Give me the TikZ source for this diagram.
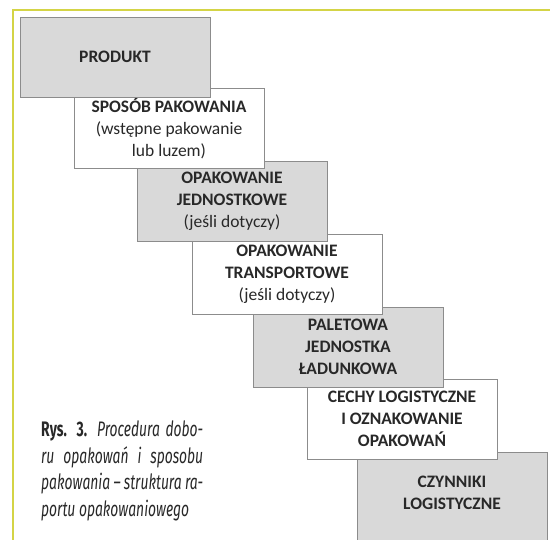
\documentclass[tikz,border=0pt]{standalone}
\usepackage{fontspec}
\setmainfont{Carlito}
\newfontfamily\capfont{Fira Sans}[FakeStretch=0.66]
\usetikzlibrary{shadows}
\definecolor{framey}{RGB}{212,212,70}
\definecolor{boxgray}{RGB}{217,217,217}
\definecolor{boxline}{RGB}{140,140,140}
\definecolor{inktext}{RGB}{40,40,40}
\tikzset{
  stepbox/.style  = {draw=boxline, line width=0.9pt, minimum width=190pt,
                     minimum height=80pt, inner sep=2pt, align=center,
                     text=inktext, font=\fontsize{17.5}{22}\selectfont\bfseries,
                     drop shadow={shadow xshift=1.2pt, shadow yshift=-1.2pt,
                                  opacity=0.35, fill=black}},
  graybox/.style  = {stepbox, fill=boxgray},
  whitebox/.style = {stepbox, fill=white},
  frame line/.style = {line width=2pt, framey},
  caption/.style  = {font=\capfont\fontsize{21}{26.5}\selectfont\itshape,
                     text=inktext, align=left, inner sep=0pt},
}

\begin{document}
\begin{tikzpicture}[x=1pt,y=-1pt]
  \clip (0,0) rectangle (550,540);
  \fill[white] (0,0) rectangle (550,540);

  % yellow frame
  \draw[frame line] (13,541) -- (13,10) -- (550,10);

  % steps, drawn from the last one so that each earlier box lies on top
  \node[graybox, minimum height=110pt] (czynniki) at (452,507) {CZYNNIKI\\ LOGISTYCZNE\\[6pt]};
  \node[whitebox] (cechy)    at (402,419) {CECHY LOGISTYCZNE\\ I OZNAKOWANIE\\ OPAKOWAŃ};
  \node[graybox]  (paleta)   at (348,347) {PALETOWA\\ JEDNOSTKA\\ ŁADUNKOWA};
  \node[whitebox] (transp)   at (287,274) {OPAKOWANIE\\ TRANSPORTOWE\\ \mdseries(jeśli dotyczy)};
  \node[graybox]  (jednost)  at (232,201) {OPAKOWANIE\\ JEDNOSTKOWE\\ \mdseries(jeśli dotyczy)};
  \node[whitebox] (sposob)   at (169,128) {SPOSÓB PAKOWANIA\\ \mdseries(wstępne pakowanie\\ \mdseries lub luzem)};
  \node[graybox]  (produkt)  at (115,57)  {PRODUKT};

  % caption
  \node[caption, anchor=north west] (rys) at (41,421)
    {\makebox[162pt][s]{\upshape\bfseries Rys. 3. \mdseries\itshape Procedura dobo-}\\
     \makebox[162pt][s]{ru opakowań i sposobu}\\
     \makebox[162pt][s]{pakowania – struktura ra-}\\
     portu opakowaniowego};
\end{tikzpicture}
\end{document}
